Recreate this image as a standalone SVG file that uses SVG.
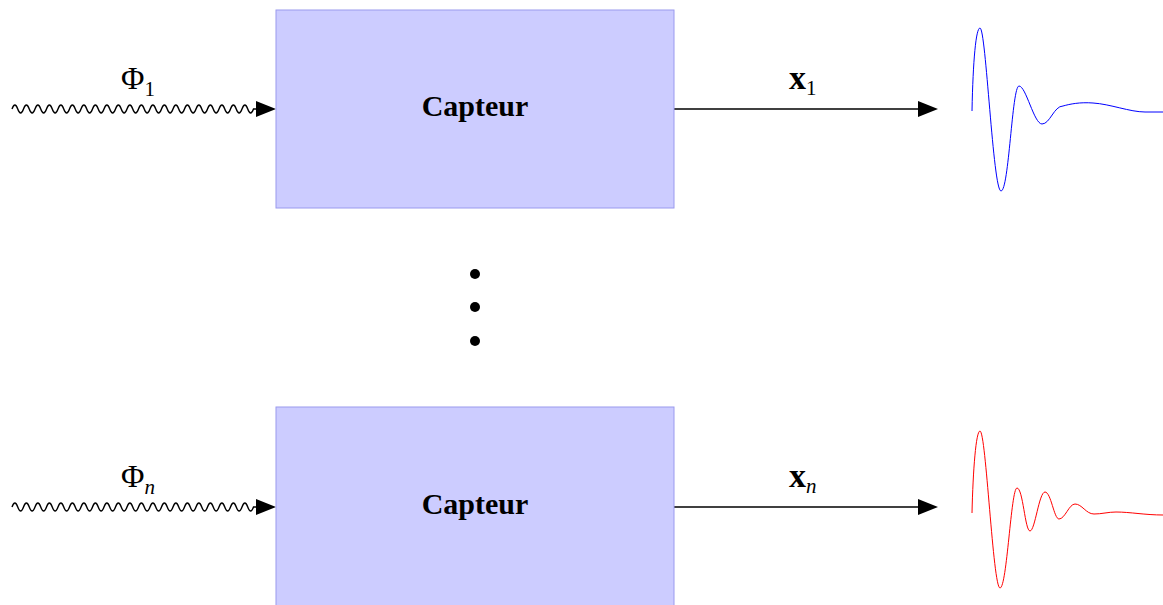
<svg xmlns="http://www.w3.org/2000/svg" width="1163" height="605" viewBox="0 0 1163 605">
<style>
.box{fill:#ccccff;stroke:#9a9aee;stroke-width:1}
.lbl{font-family:"Liberation Serif","DejaVu Serif",serif;font-weight:bold;font-size:30px;fill:#000}
.math{font-family:"Liberation Serif","DejaVu Serif",serif;font-size:32px;fill:#000}
.vec{font-family:"Liberation Serif","DejaVu Serif",serif;font-size:34px;font-weight:bold;fill:#000}
.sub{font-size:21px;font-weight:normal}
.wire{fill:none;stroke:#000;stroke-width:1.4}
.head{fill:#000}
</style>
<defs>
<path id="wave" d="M12,109 q2.875,-8 5.75,0 t5.75,0 t5.75,0 t5.75,0 t5.75,0 t5.75,0 t5.75,0 t5.75,0 t5.75,0 t5.75,0 t5.75,0 t5.75,0 t5.75,0 t5.75,0 t5.75,0 t5.75,0 t5.75,0 t5.75,0 t5.75,0 t5.75,0 t5.75,0 t5.75,0 t5.75,0 t5.75,0 t5.75,0 t5.75,0 t5.75,0 t5.75,0 t5.75,0 t5.75,0 t5.75,0 t5.75,0 t5.75,0 t5.75,0 t5.75,0 t5.75,0 t5.75,0 t5.75,0 t5.75,0 t5.75,0 t5.75,0 t5.75,0 L258,109"/>
<path id="ahead" d="M0,-8 L20,0 L0,8 Z"/>
</defs>
<g id="connectors">
<use href="#wave" class="wire"/>
<use href="#ahead" class="head" transform="translate(256,109)"/>
<line x1="674" y1="109" x2="920" y2="109" class="wire"/>
<use href="#ahead" class="head" transform="translate(918,109)"/>
<use href="#wave" class="wire" transform="translate(0,398)"/>
<use href="#ahead" class="head" transform="translate(256,507)"/>
<line x1="674" y1="507" x2="920" y2="507" class="wire"/>
<use href="#ahead" class="head" transform="translate(918,507)"/>
</g>
<g id="capteur1">
<rect x="276" y="10" width="398" height="198" class="box"/>
<text x="475" y="116" text-anchor="middle" class="lbl">Capteur</text>
</g>
<g id="capteurn">
<rect x="276" y="407" width="398" height="199" class="box"/>
<text x="475" y="514" text-anchor="middle" class="lbl">Capteur</text>
</g>
<g id="dots">
<circle cx="475" cy="274" r="5"/>
<circle cx="475" cy="307" r="5"/>
<circle cx="475" cy="341" r="5"/>
</g>
<g id="labels">
<text x="121" y="89" class="math">Φ<tspan class="sub" dy="7">1</tspan></text>
<text x="121" y="487" class="math">Φ<tspan class="sub" font-style="italic" dy="7">n</tspan></text>
<text x="789" y="89" class="vec">x<tspan class="sub" dy="6">1</tspan></text>
<text x="789" y="487" class="vec">x<tspan class="sub" font-style="italic" dy="6">n</tspan></text>
</g>
<g id="signal1">
<path fill="none" stroke="#0000ff" stroke-width="1" d="M972,111 C973,60 976,28 980,28 C986,28 993,191 1001,191 C1009,191 1012,86 1019,86 C1026,86 1034,124 1042,124 C1050,124 1054,106 1063,106 C1070,104 1080,102 1093,103 C1110,104 1130,112 1145,112 L1163,112"/>
</g>
<g id="signaln">
<path fill="none" stroke="#ff0000" stroke-width="1" d="M972,513 C973,470 976,431 980,431 C986,431 993,588 1000,588 C1007,588 1011,488 1017,488 C1023,488 1025,531 1030,531 C1035,531 1039,492 1045,492 C1051,492 1054,519 1059,519 C1065,519 1069,504 1075,504 C1082,504 1086,514 1094,514 C1102,514 1108,512 1116,512 C1130,512 1145,515 1163,515"/>
</g>
</svg>
